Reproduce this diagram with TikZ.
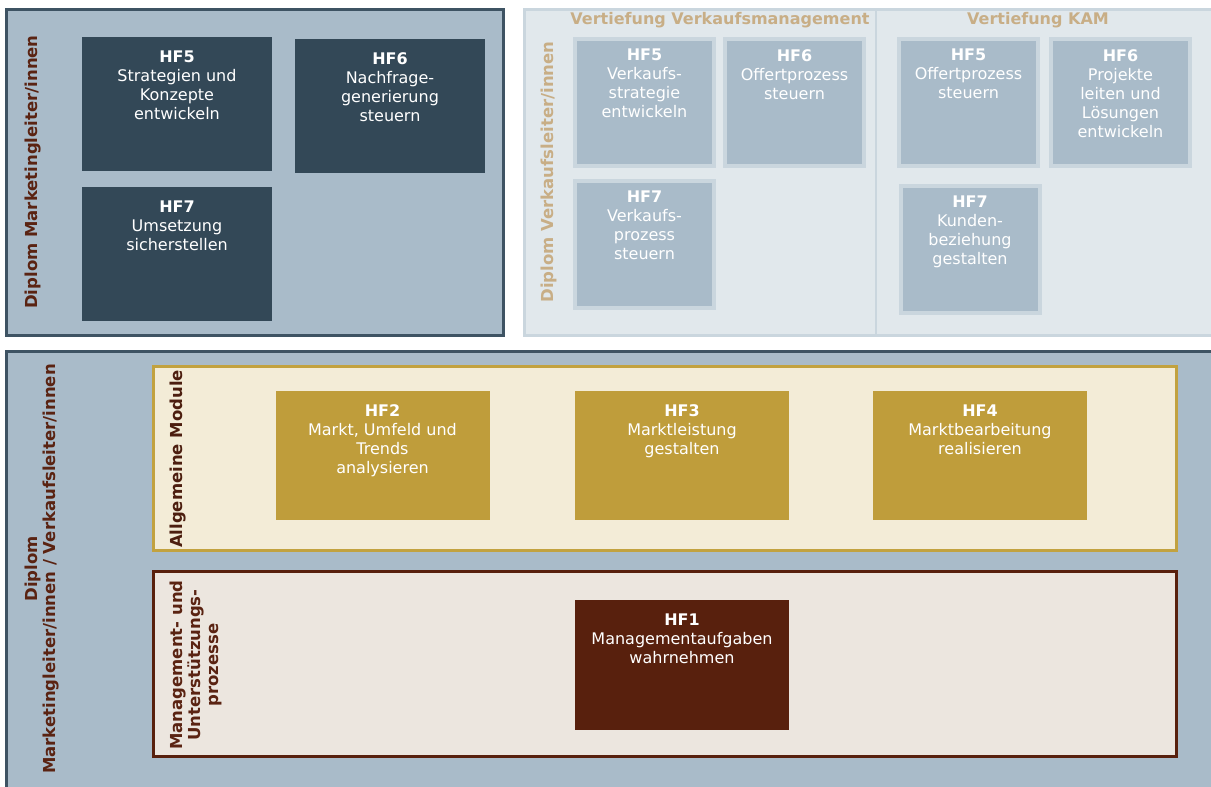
\documentclass[tikz,border=0pt]{standalone}
\usepackage{fontspec}
\setmainfont{DejaVu Sans}
\definecolor{slate}{HTML}{A9BBC9}
\definecolor{slateborder}{HTML}{3E5363}
\definecolor{darkbox}{HTML}{334857}
\definecolor{lightpanel}{HTML}{E1E8EC}
\definecolor{lightborder}{HTML}{CAD6DE}
\definecolor{tan}{HTML}{C8AE86}
\definecolor{brownlbl}{HTML}{5A2312}
\definecolor{gold}{HTML}{BF9D3B}
\definecolor{goldborder}{HTML}{C2A23F}
\definecolor{cream}{HTML}{F3ECD7}
\definecolor{beige}{HTML}{ECE6DF}
\definecolor{hfbrown}{HTML}{58200D}
\begin{document}
\begin{tikzpicture}[x=1pt,y=-1pt,
  boxtext/.style={font=\fontsize{16}{19}\selectfont, align=center, text=white, inner sep=0pt},
  lbl/.style={boxtext, anchor=north, label distance=0pt, yshift=-14pt},
  panel/.style={rectangle, inner sep=0pt, line width=3pt},
  hfdark/.style={rectangle, fill=darkbox, draw=none, inner sep=0pt, minimum width=190pt, minimum height=134pt},
  hflight/.style={rectangle, fill=slate, draw=lightborder, line width=4pt, inner sep=0pt, minimum width=139pt, minimum height=127pt},
  hfgold/.style={rectangle, fill=gold, draw=none, inner sep=0pt, minimum width=214pt, minimum height=129pt},
  hfbrownbox/.style={rectangle, fill=hfbrown, draw=none, inner sep=0pt, minimum width=214pt, minimum height=130pt},
  vlabel/.style={font=\fontsize{16.5}{18}\selectfont\bfseries, rotate=90, align=center, inner sep=0pt},
  heading/.style={font=\fontsize{16}{18}\selectfont\bfseries, text=tan, inner sep=0pt}
]
\useasboundingbox (0,0) rectangle (1211,787);
\begin{scope}
\clip (0,0) rectangle (1211,787);
% panels
\node[panel, fill=slate, draw=slateborder, minimum width=497pt, minimum height=326pt] (tlpanel) at (255,172.5) {};
\node[panel, fill=lightpanel, draw=lightborder, minimum width=700pt, minimum height=326pt] (trpanel) at (874.5,172.5) {};
\coordinate (divtop) at (876,9.5);
\coordinate (divbot) at (876,335.5);
\draw[lightborder, line width=2.5pt] (divtop) -- (divbot);
\node[panel, fill=slate, draw=slateborder, minimum width=1220pt, minimum height=450pt] (botpanel) at (616.5,576.5) {};
\node[panel, fill=cream, draw=goldborder, minimum width=1023pt, minimum height=184pt] (ampanel) at (665,458.5) {};
\node[panel, fill=beige, draw=hfbrown, minimum width=1023pt, minimum height=185pt] (mupanel) at (665,664) {};

% labels of panels
\node[vlabel, text=brownlbl] (tllbl) at (33,172) {Diplom Marketingleiter/innen};
\node[vlabel, text=tan] (trlbl) at (549,172) {Diplom Verkaufsleiter/innen};
\node[heading] (vmhead) at (720,20) {Vertiefung Verkaufsmanagement};
\node[heading] (kamhead) at (1038,20) {Vertiefung KAM};
\node[vlabel, text=brownlbl] (botlbl) at (42,569) {Diplom\\Marketingleiter/innen / Verkaufsleiter/innen};
\node[vlabel, text=brownlbl!85!black] (amlbl) at (178,459) {Allgemeine Module};
\node[vlabel, text=brownlbl] (mulbl) at (196,665) {Management- und\\Unterstützungs-\\prozesse};

% top left
\node[hfdark, label={[lbl]north:{\textbf{HF5}\\Strategien und\\Konzepte\\entwickeln}}] (tl5) at (177,104) {};
\node[hfdark, label={[lbl]north:{\textbf{HF6}\\Nachfrage-\\generierung\\steuern}}] (tl6) at (390,106) {};
\node[hfdark, label={[lbl]north:{\textbf{HF7}\\Umsetzung\\sicherstellen}}] (tl7) at (177,254) {};

% top right
\node[hflight, label={[lbl, yshift=2pt]north:{\textbf{HF5}\\Verkaufs-\\strategie\\entwickeln}}] (vm5) at (644.5,102.5) {};
\node[hflight, label={[lbl, yshift=2pt]north:{\textbf{HF6}\\Offertprozess\\steuern}}] (vm6) at (794.5,102.5) {};
\node[hflight, label={[lbl, yshift=2pt]north:{\textbf{HF7}\\Verkaufs-\\prozess\\steuern}}] (vm7) at (644.5,244) {};
\node[hflight, label={[lbl, yshift=2pt]north:{\textbf{HF5}\\Offertprozess\\steuern}}] (kam5) at (968.5,102.5) {};
\node[hflight, label={[lbl, yshift=2pt]north:{\textbf{HF6}\\Projekte\\leiten und\\Lösungen\\entwickeln}}] (kam6) at (1120.5,102.5) {};
\node[hflight, label={[lbl, yshift=2pt]north:{\textbf{HF7}\\Kunden-\\beziehung\\gestalten}}] (kam7) at (970,249) {};

% allgemeine module
\node[hfgold, label={[lbl]north:{\textbf{HF2}\\Markt, Umfeld und\\Trends\\analysieren}}] (hf2) at (382.5,455.5) {};
\node[hfgold, label={[lbl]north:{\textbf{HF3}\\Marktleistung\\gestalten}}] (hf3) at (682,455.5) {};
\node[hfgold, label={[lbl]north:{\textbf{HF4}\\Marktbearbeitung\\realisieren}}] (hf4) at (980,455.5) {};

% management
\node[hfbrownbox, label={[lbl]north:{\textbf{HF1}\\Managementaufgaben\\wahrnehmen}}] (hf1) at (682,665) {};
\end{scope}
\end{tikzpicture}
\end{document}
